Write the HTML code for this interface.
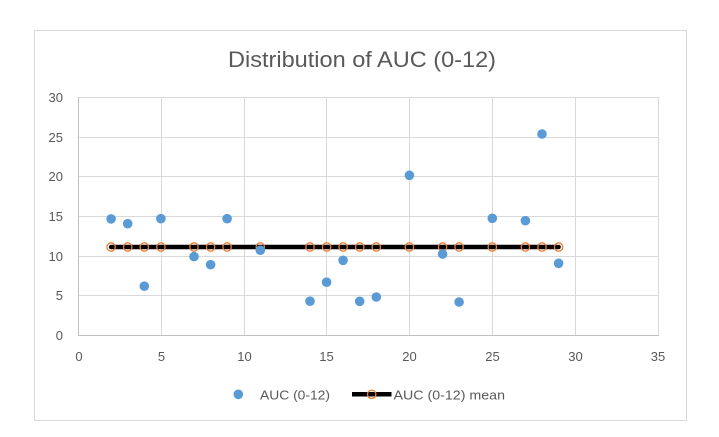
<!DOCTYPE html>
<html>
<head>
<meta charset="utf-8">
<style>
  html, body { margin:0; padding:0; background:#ffffff; }
  svg { display:block; }
  text { font-family: "Liberation Sans", Arial, sans-serif; fill:#595959; }
</style>
</head>
<body>
<svg width="719" height="437" viewBox="0 0 719 437" xmlns="http://www.w3.org/2000/svg">
  <rect x="0" y="0" width="719" height="437" fill="#ffffff"/>
  <!-- chart border -->
  <rect x="34.5" y="30.5" width="652" height="390" fill="#ffffff" stroke="#d9d9d9" stroke-width="1"/>

  <!-- title -->
  <text x="228" y="67" font-size="22" textLength="268" lengthAdjust="spacingAndGlyphs">Distribution of AUC (0-12)</text>

  <!-- horizontal gridlines -->
  <g stroke="#d9d9d9" stroke-width="1">
    <line x1="78" y1="97.5" x2="658" y2="97.5"/>
    <line x1="78" y1="137.5" x2="658" y2="137.5"/>
    <line x1="78" y1="176.5" x2="658" y2="176.5"/>
    <line x1="78" y1="216.5" x2="658" y2="216.5"/>
    <line x1="78" y1="256.5" x2="658" y2="256.5"/>
    <line x1="78" y1="295.5" x2="658" y2="295.5"/>
    <!-- vertical gridlines -->
    <line x1="161.5" y1="97" x2="161.5" y2="335"/>
    <line x1="244.5" y1="97" x2="244.5" y2="335"/>
    <line x1="326.5" y1="97" x2="326.5" y2="335"/>
    <line x1="409.5" y1="97" x2="409.5" y2="335"/>
    <line x1="492.5" y1="97" x2="492.5" y2="335"/>
    <line x1="575.5" y1="97" x2="575.5" y2="335"/>
    <line x1="658.5" y1="97" x2="658.5" y2="335"/>
  </g>
  <!-- axes -->
  <g stroke="#bfbfbf" stroke-width="1">
    <line x1="78.5" y1="97" x2="78.5" y2="335.5"/>
    <line x1="78" y1="335.5" x2="659" y2="335.5"/>
  </g>

  <!-- y tick labels -->
  <g font-size="13" text-anchor="end">
    <text x="63" y="102">30</text>
    <text x="63" y="142">25</text>
    <text x="63" y="181">20</text>
    <text x="63" y="221">15</text>
    <text x="63" y="261">10</text>
    <text x="63" y="300">5</text>
    <text x="63" y="340">0</text>
  </g>
  <!-- x tick labels -->
  <g font-size="13" text-anchor="middle">
    <text x="79" y="361">0</text>
    <text x="161.5" y="361">5</text>
    <text x="244.5" y="361">10</text>
    <text x="326.5" y="361">15</text>
    <text x="409.5" y="361">20</text>
    <text x="492.5" y="361">25</text>
    <text x="575.5" y="361">30</text>
    <text x="658" y="361">35</text>
  </g>

  <!-- mean line -->
  <line x1="111.1" y1="247" x2="558.6" y2="247" stroke="#000000" stroke-width="4.5" stroke-linecap="round"/>
  <!-- mean markers -->
  <g fill="none" stroke="#ED7D31" stroke-width="1.3">
    <circle cx="111.1" cy="247" r="4.2"/>
    <circle cx="127.7" cy="247" r="4.2"/>
    <circle cx="144.3" cy="247" r="4.2"/>
    <circle cx="160.9" cy="247" r="4.2"/>
    <circle cx="194.0" cy="247" r="4.2"/>
    <circle cx="210.6" cy="247" r="4.2"/>
    <circle cx="227.1" cy="247" r="4.2"/>
    <circle cx="260.3" cy="247" r="4.2"/>
    <circle cx="310.0" cy="247" r="4.2"/>
    <circle cx="326.6" cy="247" r="4.2"/>
    <circle cx="343.1" cy="247" r="4.2"/>
    <circle cx="359.7" cy="247" r="4.2"/>
    <circle cx="376.3" cy="247" r="4.2"/>
    <circle cx="409.4" cy="247" r="4.2"/>
    <circle cx="442.6" cy="247" r="4.2"/>
    <circle cx="459.1" cy="247" r="4.2"/>
    <circle cx="492.3" cy="247" r="4.2"/>
    <circle cx="525.4" cy="247" r="4.2"/>
    <circle cx="542.0" cy="247" r="4.2"/>
    <circle cx="558.6" cy="247" r="4.2"/>
  </g>

  <!-- data points -->
  <g fill="#5B9BD5">
    <circle cx="111.1" cy="218.9" r="4.8"/>
    <circle cx="127.7" cy="223.7" r="4.8"/>
    <circle cx="144.3" cy="286.2" r="4.8"/>
    <circle cx="160.9" cy="218.7" r="4.8"/>
    <circle cx="194.0" cy="256.6" r="4.8"/>
    <circle cx="210.6" cy="264.7" r="4.8"/>
    <circle cx="227.1" cy="218.7" r="4.8"/>
    <circle cx="260.3" cy="250.2" r="4.8"/>
    <circle cx="310.0" cy="301.2" r="4.8"/>
    <circle cx="326.6" cy="282.2" r="4.8"/>
    <circle cx="343.1" cy="260.3" r="4.8"/>
    <circle cx="359.7" cy="301.3" r="4.8"/>
    <circle cx="376.3" cy="297.0" r="4.8"/>
    <circle cx="409.4" cy="175.3" r="4.8"/>
    <circle cx="442.6" cy="254.0" r="4.8"/>
    <circle cx="459.1" cy="302.0" r="4.8"/>
    <circle cx="492.3" cy="218.3" r="4.8"/>
    <circle cx="525.4" cy="220.7" r="4.8"/>
    <circle cx="542.0" cy="134.0" r="4.8"/>
    <circle cx="558.6" cy="263.3" r="4.8"/>
  </g>

  <!-- legend -->
  <circle cx="238.3" cy="394.3" r="4.8" fill="#5B9BD5"/>
  <text x="260" y="399.5" font-size="13" textLength="70" lengthAdjust="spacingAndGlyphs">AUC (0-12)</text>
  <line x1="352" y1="394.3" x2="391.5" y2="394.3" stroke="#000000" stroke-width="4.5"/>
  <circle cx="371.7" cy="394.3" r="4.2" fill="none" stroke="#ED7D31" stroke-width="1.3"/>
  <text x="393.5" y="399.5" font-size="13" textLength="111.5" lengthAdjust="spacingAndGlyphs">AUC (0-12) mean</text>
</svg>
</body>
</html>
